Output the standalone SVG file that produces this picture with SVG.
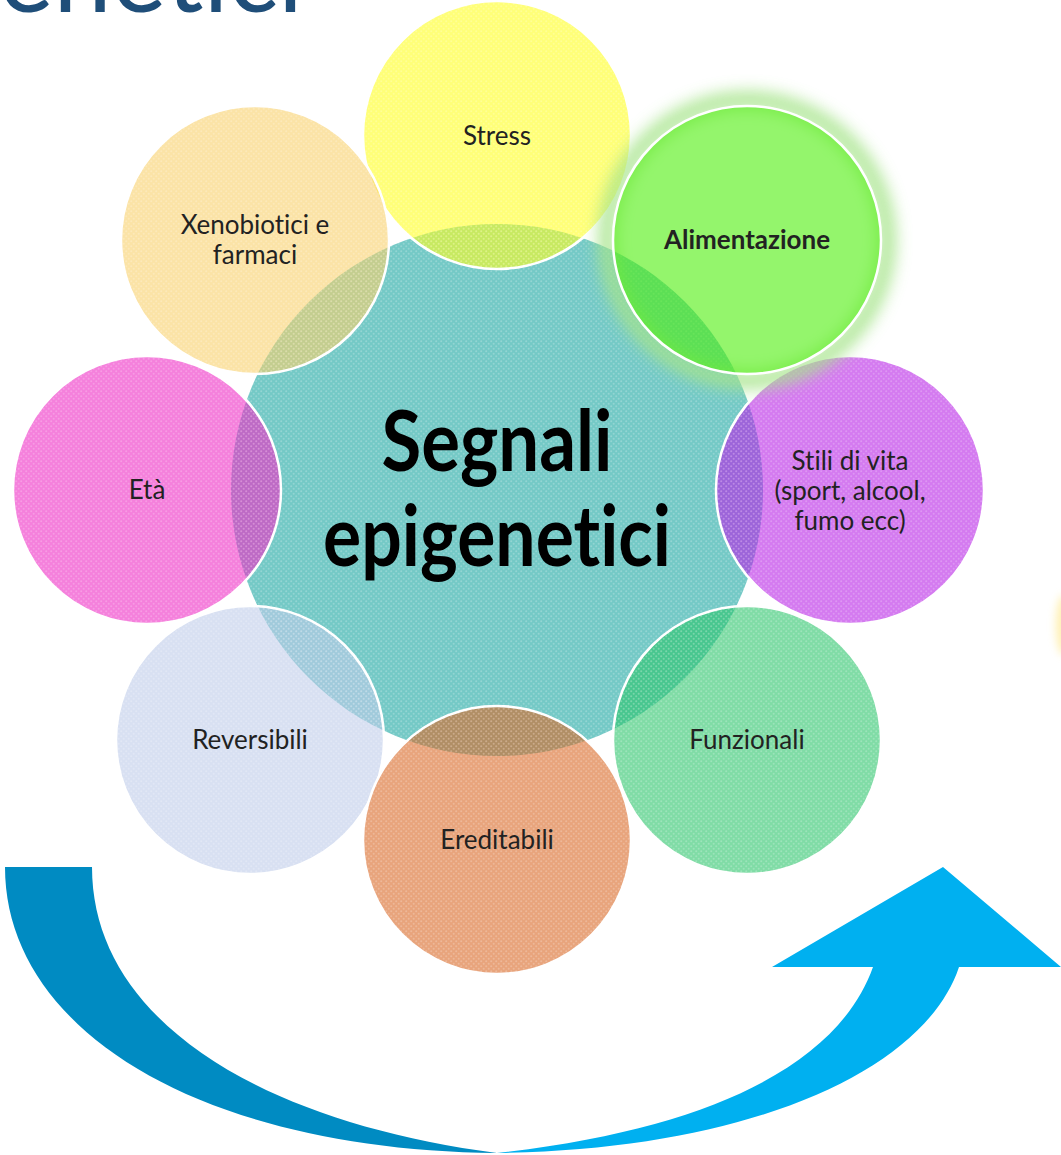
<svg xmlns="http://www.w3.org/2000/svg" width="1061" height="1155" viewBox="0 0 1061 1155">
<defs>
<style>
text{font-variant-ligatures:none;font-feature-settings:"liga" 0,"clig" 0}
.lbl{font-family:Lato,"Liberation Sans",sans-serif;font-size:26px;fill:#222;text-anchor:middle}
.node{fill-opacity:0.6;stroke:#fff;stroke-width:2.5}
.tex{fill:url(#dots);stroke:none}
.big{font-family:Lato,"Liberation Sans",sans-serif;font-size:84px;font-weight:bold;fill:#000;text-anchor:middle}
</style>
<pattern id="dots" width="5" height="5" patternUnits="userSpaceOnUse">
<circle cx="1.2" cy="1.2" r="1" fill="#fff" fill-opacity="0.22"/>
<circle cx="3.7" cy="3.7" r="1" fill="#fff" fill-opacity="0.22"/>
</pattern>
<filter id="glow" x="-30%" y="-30%" width="160%" height="160%">
<feGaussianBlur stdDeviation="8"/>
</filter>
<filter id="soft" x="-100%" y="-100%" width="300%" height="300%">
<feGaussianBlur stdDeviation="4"/>
</filter>
</defs>
<rect width="1061" height="1155" fill="#fff"/>

<text x="303" y="12" font-family="Lato,'Liberation Sans',sans-serif" font-size="104" fill="#1F4E79" text-anchor="end">enetici</text>

<ellipse cx="1064" cy="625" rx="8" ry="30" fill="#FFE680" opacity="0.6" filter="url(#soft)"/>

<g id="connectors">
<path d="M 5 867 C 5 1030 200 1150 497 1153 C 260 1122 92 1020 92 867 Z" fill="#008BC2"/>
<path d="M 497 1153 C 750 1150 925 1070 959 967 L 1061 967 L 943 867 L 772 967 L 873 967 C 840 1060 720 1128 497 1153 Z" fill="#00B0F0"/>
</g>

<g id="center">
<circle cx="497" cy="490" r="266" fill="#74C9C6"/>
<circle cx="497" cy="490" r="266" class="tex"/>
</g>

<g id="stress">
<circle cx="497" cy="135" r="134" class="node" fill="#FFFF1E"/>
<circle cx="497" cy="135" r="134" class="tex"/>
<text class="lbl" x="497" y="145">Stress</text>
</g>
<g id="xenobiotici">
<circle cx="255" cy="240" r="134" class="node" fill="#F8D06B"/>
<circle cx="255" cy="240" r="134" class="tex"/>
<text class="lbl" x="255" y="234">Xenobiotici e</text>
<text class="lbl" x="255" y="264">farmaci</text>
</g>
<g id="eta">
<circle cx="147" cy="490" r="134" class="node" fill="#EE2BC5"/>
<circle cx="147" cy="490" r="134" class="tex"/>
<text class="lbl" x="147" y="499">Età</text>
</g>
<g id="reversibili">
<circle cx="250" cy="740" r="134" class="node" fill="#BECBE9"/>
<circle cx="250" cy="740" r="134" class="tex"/>
<text class="lbl" x="250" y="749">Reversibili</text>
</g>
<g id="ereditabili">
<circle cx="497" cy="840" r="134" class="node" fill="#D96725"/>
<circle cx="497" cy="840" r="134" class="tex"/>
<text class="lbl" x="497" y="849">Ereditabili</text>
</g>
<g id="funzionali">
<circle cx="747" cy="740" r="134" class="node" fill="#2BC56B"/>
<circle cx="747" cy="740" r="134" class="tex"/>
<text class="lbl" x="747" y="749">Funzionali</text>
</g>
<g id="stili">
<circle cx="850" cy="490" r="134" class="node" fill="#B721E6"/>
<circle cx="850" cy="490" r="134" class="tex"/>
<text class="lbl" x="850" y="470">Stili di vita</text>
<text class="lbl" x="850" y="500">(sport, alcool,</text>
<text class="lbl" x="850" y="530">fumo ecc)</text>
</g>
<g id="alimentazione">
<circle cx="747" cy="240" r="140" fill="none" stroke="#A6E48A" stroke-width="18" opacity="0.85" filter="url(#glow)"/>
<circle cx="747" cy="240" r="134" class="node" fill="#4DEE0A"/>
<text class="lbl" x="747" y="249" font-weight="bold">Alimentazione</text>
</g>

<g id="title">
<text class="big" x="497" y="471" textLength="231" lengthAdjust="spacingAndGlyphs">Segnali</text>
<text class="big" x="497" y="566" textLength="348" lengthAdjust="spacingAndGlyphs">epigenetici</text>
</g>
</svg>
